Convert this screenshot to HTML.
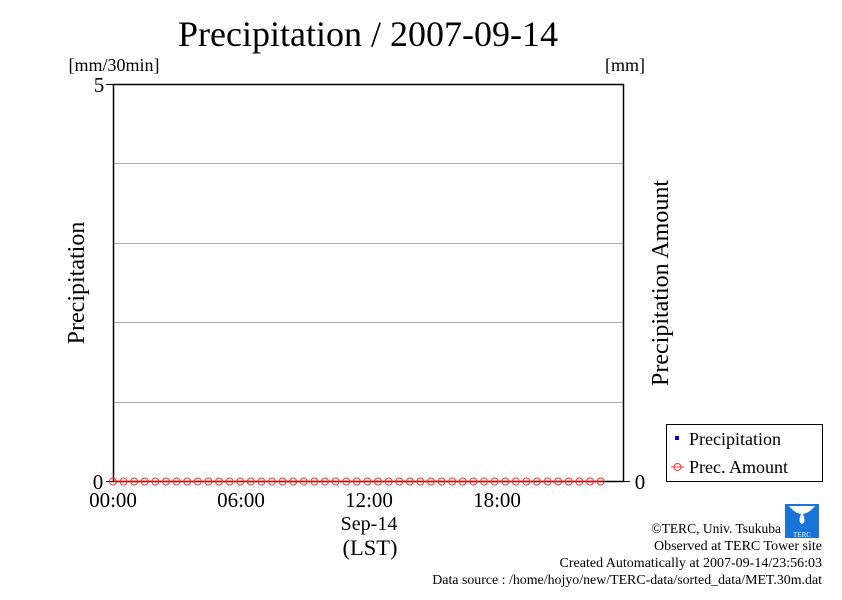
<!DOCTYPE html>
<html><head><meta charset="utf-8"><style>
body{margin:0;background:#fff;}
svg text{font-family:"Liberation Serif",serif;fill:#000;}
</style></head><body>
<svg width="842" height="595" xmlns="http://www.w3.org/2000/svg">
<text x="368" y="46" font-size="36" text-anchor="middle">Precipitation / 2007-09-14</text>
<text x="114" y="71" font-size="18" text-anchor="middle">[mm/30min]</text>
<text x="625" y="71" font-size="18" text-anchor="middle">[mm]</text>
<g stroke="#b0b0b0" stroke-width="1">
<line x1="113" y1="163.5" x2="623" y2="163.5"/>
<line x1="113" y1="243.5" x2="623" y2="243.5"/>
<line x1="113" y1="322.5" x2="623" y2="322.5"/>
<line x1="113" y1="402.5" x2="623" y2="402.5"/>
</g>
<rect x="113.5" y="84.5" width="510" height="397" fill="none" stroke="#000" stroke-width="1.5"/>
<g stroke="#000"><line x1="106" y1="84.5" x2="113" y2="84.5"/><line x1="106" y1="481.5" x2="113" y2="481.5"/><line x1="623" y1="481.5" x2="630" y2="481.5"/></g>
<text x="99" y="92" font-size="21" text-anchor="middle">5</text>
<text x="98" y="489" font-size="21" text-anchor="middle">0</text>
<text x="640" y="489" font-size="21" text-anchor="middle">0</text>
<text font-size="24" text-anchor="middle" transform="translate(84,283) rotate(-90)">Precipitation</text>
<text font-size="24" text-anchor="middle" transform="translate(668,283) rotate(-90)">Precipitation Amount</text>
<line x1="113" y1="481.5" x2="602" y2="481.5" stroke="#cc0000" stroke-width="1.2"/>
<g fill="none" stroke="#ff3030" stroke-width="1">
<circle cx="113" cy="481.5" r="3.5"/><circle cx="123.6" cy="481.5" r="3.5"/><circle cx="134.2" cy="481.5" r="3.5"/><circle cx="144.8" cy="481.5" r="3.5"/><circle cx="155.4" cy="481.5" r="3.5"/><circle cx="166" cy="481.5" r="3.5"/><circle cx="176.6" cy="481.5" r="3.5"/><circle cx="187.2" cy="481.5" r="3.5"/><circle cx="197.8" cy="481.5" r="3.5"/><circle cx="208.4" cy="481.5" r="3.5"/><circle cx="219" cy="481.5" r="3.5"/><circle cx="229.6" cy="481.5" r="3.5"/><circle cx="240.2" cy="481.5" r="3.5"/><circle cx="250.8" cy="481.5" r="3.5"/><circle cx="261.4" cy="481.5" r="3.5"/><circle cx="272" cy="481.5" r="3.5"/><circle cx="282.6" cy="481.5" r="3.5"/><circle cx="293.2" cy="481.5" r="3.5"/><circle cx="303.8" cy="481.5" r="3.5"/><circle cx="314.4" cy="481.5" r="3.5"/><circle cx="325" cy="481.5" r="3.5"/><circle cx="335.6" cy="481.5" r="3.5"/><circle cx="346.2" cy="481.5" r="3.5"/><circle cx="356.8" cy="481.5" r="3.5"/><circle cx="367.4" cy="481.5" r="3.5"/><circle cx="378" cy="481.5" r="3.5"/><circle cx="388.6" cy="481.5" r="3.5"/><circle cx="399.2" cy="481.5" r="3.5"/><circle cx="409.8" cy="481.5" r="3.5"/><circle cx="420.4" cy="481.5" r="3.5"/><circle cx="431" cy="481.5" r="3.5"/><circle cx="441.6" cy="481.5" r="3.5"/><circle cx="452.2" cy="481.5" r="3.5"/><circle cx="462.8" cy="481.5" r="3.5"/><circle cx="473.4" cy="481.5" r="3.5"/><circle cx="484" cy="481.5" r="3.5"/><circle cx="494.6" cy="481.5" r="3.5"/><circle cx="505.2" cy="481.5" r="3.5"/><circle cx="515.8" cy="481.5" r="3.5"/><circle cx="526.4" cy="481.5" r="3.5"/><circle cx="537" cy="481.5" r="3.5"/><circle cx="547.6" cy="481.5" r="3.5"/><circle cx="558.2" cy="481.5" r="3.5"/><circle cx="568.8" cy="481.5" r="3.5"/><circle cx="579.4" cy="481.5" r="3.5"/><circle cx="590" cy="481.5" r="3.5"/><circle cx="600.6" cy="481.5" r="3.5"/>
</g>
<text x="113" y="507" font-size="21" text-anchor="middle">00:00</text>
<text x="241" y="507" font-size="21" text-anchor="middle">06:00</text>
<text x="369" y="507" font-size="21" text-anchor="middle">12:00</text>
<text x="497" y="507" font-size="21" text-anchor="middle">18:00</text>
<text x="369" y="530" font-size="20" text-anchor="middle">Sep-14</text>
<text x="370" y="555" font-size="22.5" text-anchor="middle">(LST)</text>
<rect x="666.5" y="424.5" width="156" height="57" fill="#fff" stroke="#000" stroke-width="1"/>
<rect x="675" y="436" width="4" height="4" fill="#0000ee"/>
<text x="689" y="445" font-size="18">Precipitation</text>
<line x1="671" y1="467" x2="684" y2="467" stroke="#ff3030"/>
<circle cx="677.5" cy="467" r="3.5" fill="none" stroke="#ff3030"/>
<text x="689" y="473" font-size="18">Prec. Amount</text>
<rect x="785" y="504" width="34" height="34" fill="#1a73d6"/>
<path d="M789 506 Q802 522 815 506" fill="#fff"/>
<path d="M802 512 Q797 522 802 524 Q807 522 802 512Z" fill="#fff"/>
<text x="802" y="537" font-size="7" style="fill:#fff" text-anchor="middle">TERC</text>
<text x="781" y="533" font-size="13.5" text-anchor="end">©TERC, Univ. Tsukuba</text>
<text x="822" y="550" font-size="14" text-anchor="end">Observed at TERC Tower site</text>
<text x="822" y="567" font-size="14" text-anchor="end">Created Automatically at 2007-09-14/23:56:03</text>
<text x="822" y="584" font-size="13.9" text-anchor="end">Data source : /home/hojyo/new/TERC-data/sorted_data/MET.30m.dat</text>
</svg>
</body></html>
